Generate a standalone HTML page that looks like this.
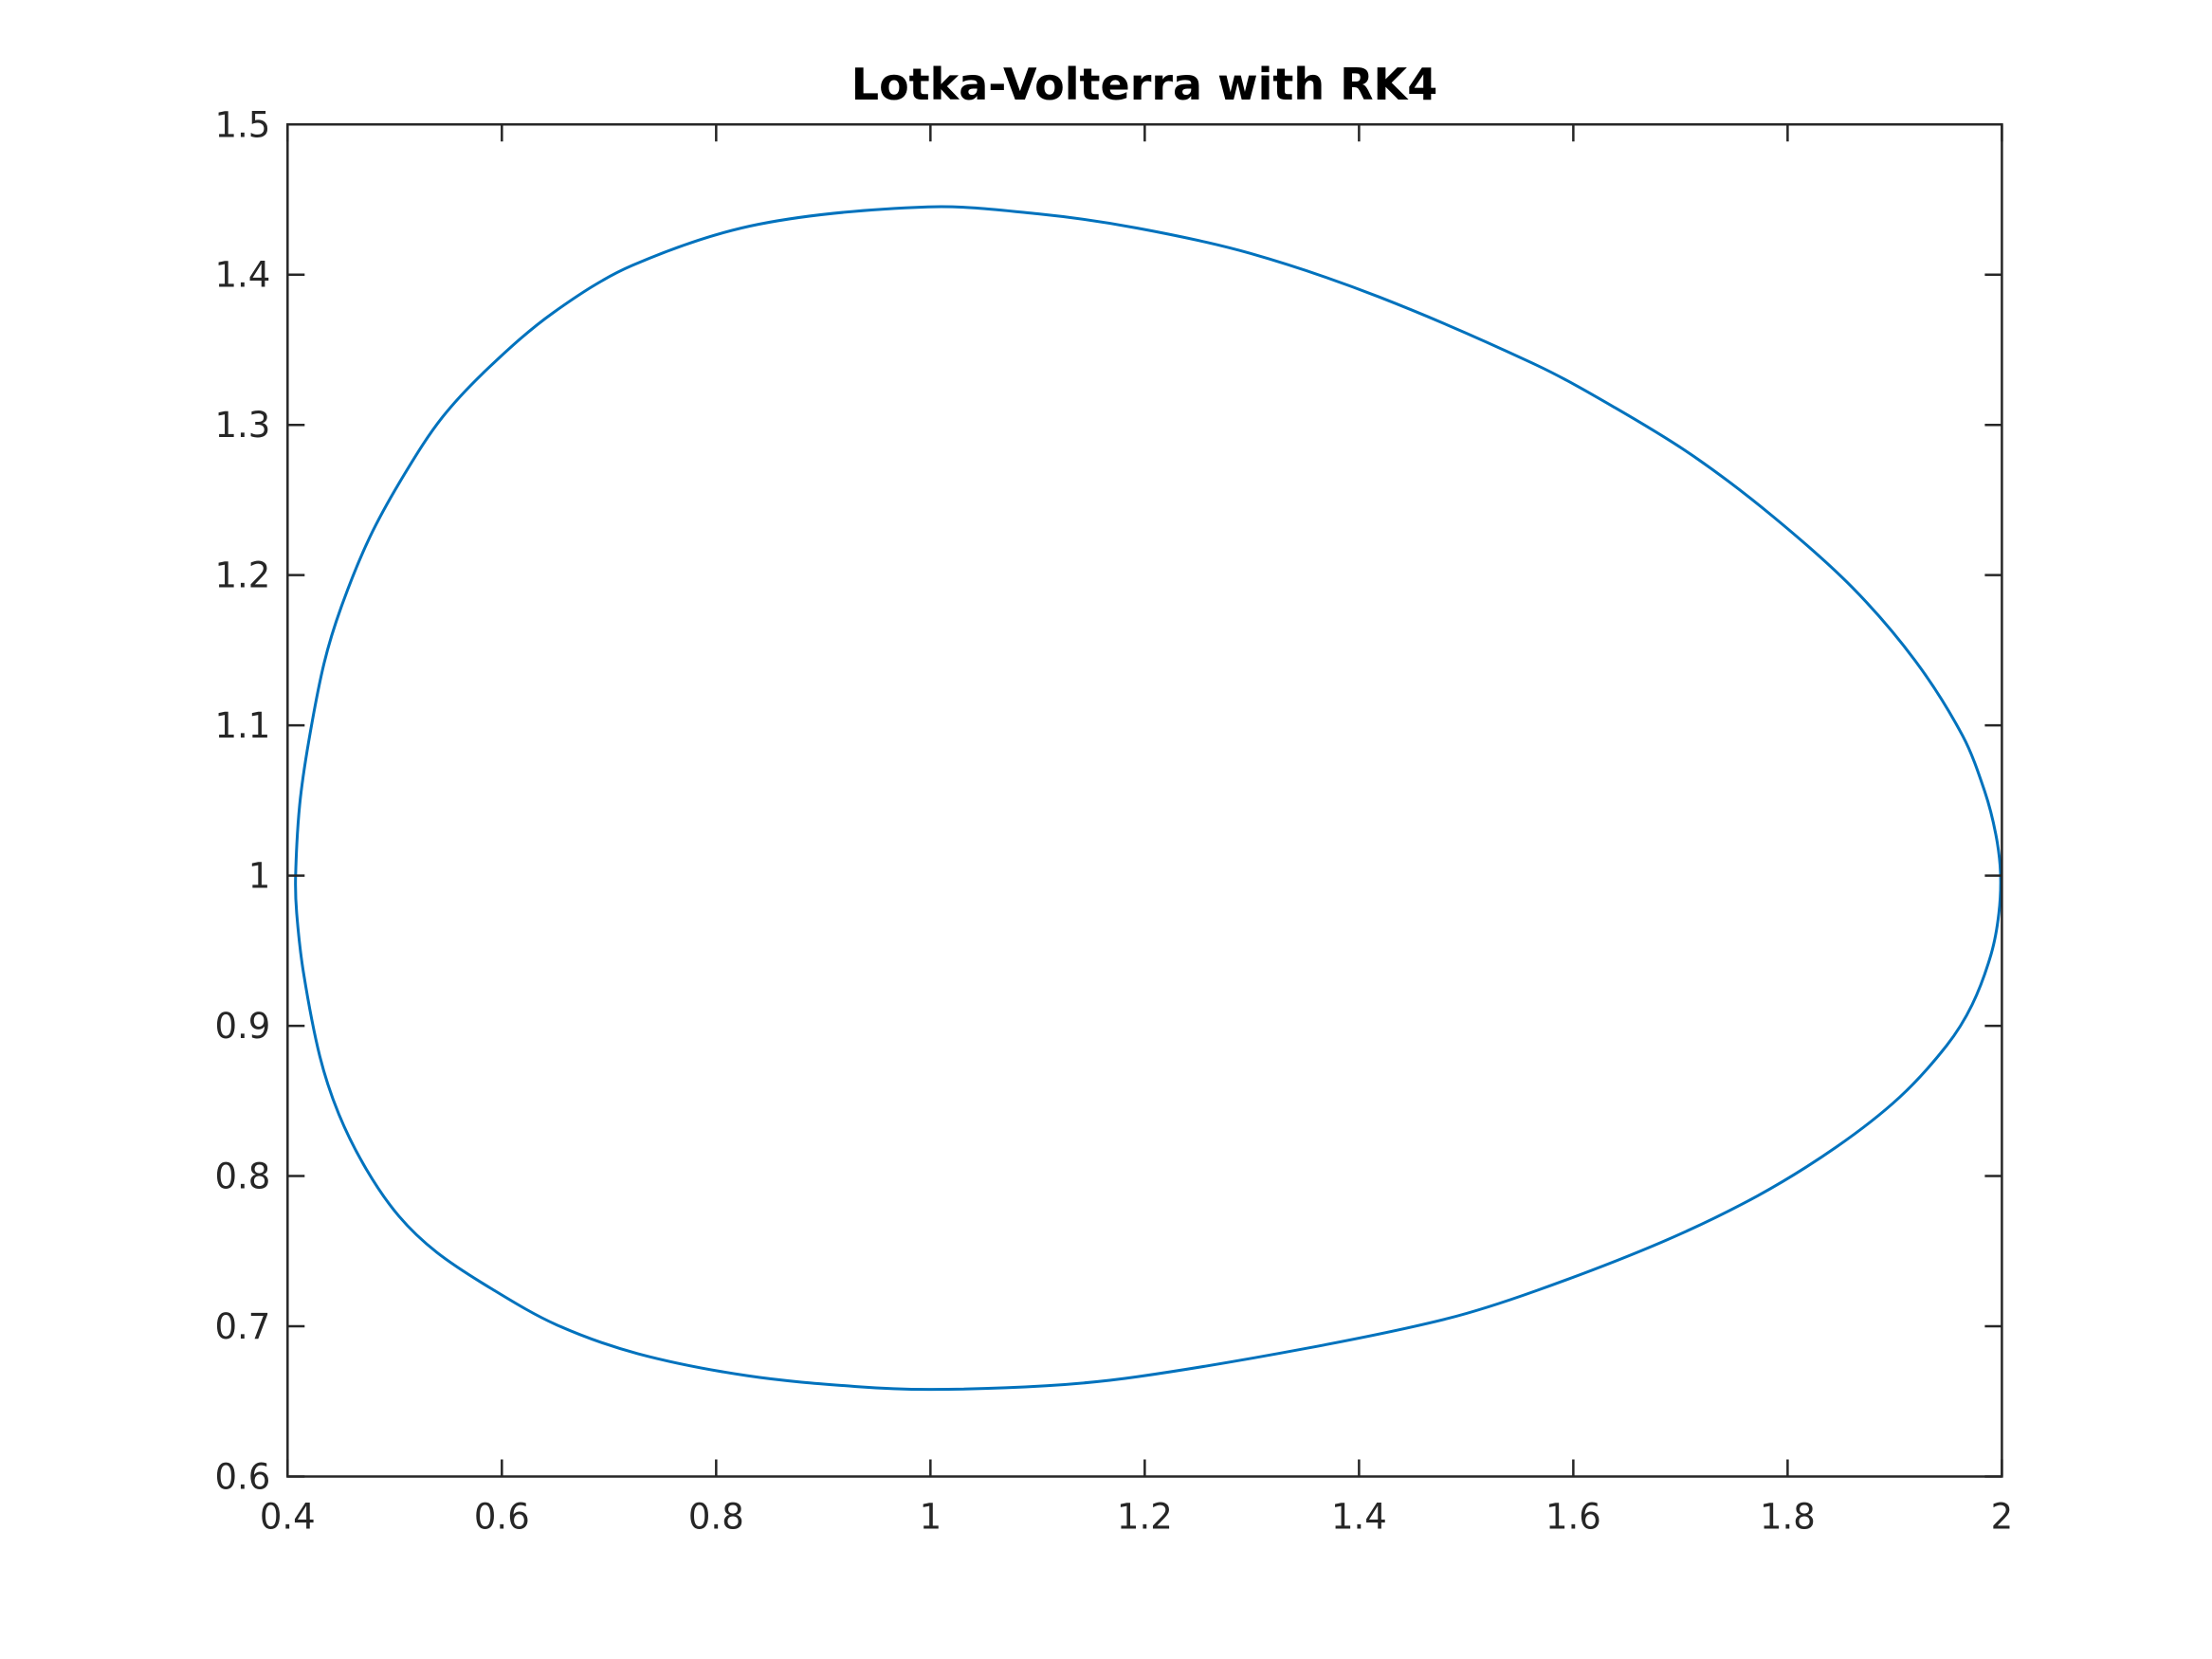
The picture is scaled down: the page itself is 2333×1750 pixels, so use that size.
<!DOCTYPE html>
<html><head><meta charset="utf-8"><style>
html,body{margin:0;padding:0;background:#fff;}
svg{display:block;font-family:"DejaVu Sans","Liberation Sans",sans-serif;}
</style></head><body>
<svg id="chart" width="2333" height="1750" viewBox="0 0 2333 1750" xmlns="http://www.w3.org/2000/svg">
<rect width="2333" height="1750" fill="#fff"/>
<text x="1207" y="105" text-anchor="middle" font-size="46" font-weight="bold" fill="#000">Lotka-Volterra with RK4</text>
<g id="axes"></g>
</svg>
<script>
const xTicks=[0.4,0.6,0.8,1,1.2,1.4,1.6,1.8,2];
const xTickLabels=["0.4","0.6","0.8","1","1.2","1.4","1.6","1.8","2"];
const yTicks=[0.6,0.7,0.8,0.9,1,1.1,1.2,1.3,1.4,1.5];
const yTickLabels=["0.6","0.7","0.8","0.9","1","1.1","1.2","1.3","1.4","1.5"];
const orbitX=[0.4075,0.4113,0.4199,0.434,0.4502,0.4767,0.5092,0.5446,0.5888,0.6478,0.7216,0.8394,0.9976,1.1,1.193,1.2983,1.4189,1.5651,1.6388,1.7126,1.7864,1.8601,1.9191,1.9634,1.984,1.9943,1.9987,1.9972,1.9899,1.9722,1.9486,1.9043,1.8454,1.7716,1.6831,1.5651,1.4818,1.3507,1.193,1.1083,1.0015,0.9305,0.8289,0.7272,0.651,0.5901,0.5393,0.5038,0.4733,0.4479,0.4301,0.4149,0.4085];
const orbitY=[1.0,1.0471,1.09,1.1411,1.179,1.2252,1.2673,1.3052,1.3388,1.3746,1.4061,1.4335,1.4451,1.4405,1.431,1.4142,1.3851,1.340,1.3115,1.279,1.239,1.192,1.143,1.093,1.056,1.0275,1.002,0.975,0.9476,0.914,0.887,0.8523,0.8193,0.7867,0.7562,0.7236,0.705,0.6853,0.6664,0.6604,0.658,0.6599,0.6671,0.6817,0.701,0.7251,0.7492,0.7734,0.8048,0.8411,0.8797,0.9352,0.975];
const L=303.3,R=2111.4,T=131.25,B=1557.5;
const xMin=0.4,xMax=2,yMin=0.6,yMax=1.5;
function sx(v){return L+(v-xMin)/(xMax-xMin)*(R-L);}
function sy(v){return B-(v-yMin)/(yMax-yMin)*(B-T);}
const NS="http://www.w3.org/2000/svg";
const g=document.getElementById('axes');
function mk(tag,attrs,parent){const e=document.createElementNS(NS,tag);for(const k in attrs)e.setAttribute(k,attrs[k]);(parent||g).appendChild(e);return e;}
let pts=orbitX.map((x,i)=>[sx(x),sy(orbitY[i])]);
pts=pts.filter((p,i)=>i===0||Math.hypot(p[0]-pts[i-1][0],p[1]-pts[i-1][1])>1);
const n=pts.length;
function len(a,b){return Math.hypot(a[0]-b[0],a[1]-b[1])||1e-6;}
const tan=pts.map((p,i)=>{const a=pts[(i-1+n)%n],b=pts[(i+1)%n];const s=len(a,p)+len(p,b);return [(b[0]-a[0])/s,(b[1]-a[1])/s];});
let d=`M${pts[0][0]},${pts[0][1]}`;
for(let i=0;i<n;i++){const j=(i+1)%n;const p1=pts[i],p2=pts[j];const l=len(p1,p2)/3;
d+=` C${p1[0]+tan[i][0]*l},${p1[1]+tan[i][1]*l} ${p2[0]-tan[j][0]*l},${p2[1]-tan[j][1]*l} ${p2[0]},${p2[1]}`;}
const curve=mk('path',{d:d,fill:'none',stroke:'#0072BD','stroke-width':3});


const box=mk('rect',{x:L,y:T,width:R-L,height:B-T,fill:'none',stroke:'#262626','stroke-width':2.5});


const tl=18;
xTicks.forEach((v,i)=>{const x=sx(v);
const t1=mk('path',{d:`M${x},${B}V${B-tl}M${x},${T}V${T+tl}`,stroke:'#262626','stroke-width':2.5});


const lb=mk('text',{x:x,y:B+55,'text-anchor':'middle','font-size':37,fill:'#262626'});
lb.textContent=xTickLabels[i];

});
yTicks.forEach((v,i)=>{const y=sy(v);
const t1=mk('path',{d:`M${L},${y}H${L+tl}M${R},${y}H${R-tl}`,stroke:'#262626','stroke-width':2.5});


const lb=mk('text',{x:L-18,y:y+13,'text-anchor':'end','font-size':37,fill:'#262626'});
lb.textContent=yTickLabels[i];

});
</script>
</body></html>
